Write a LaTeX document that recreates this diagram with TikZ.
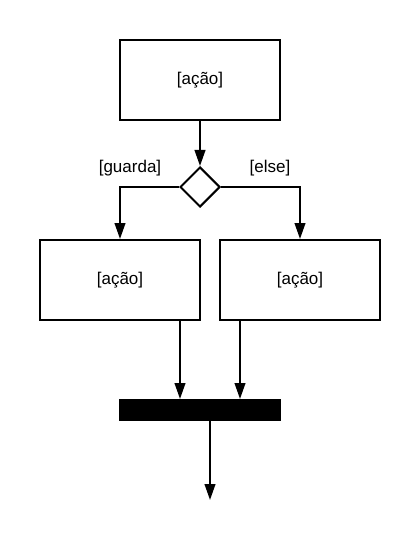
\documentclass[tikz,border=0pt]{standalone}
\usepackage{fontspec}
\setmainfont{Liberation Sans}
\usetikzlibrary{shapes.geometric,arrows.meta}

\begin{document}
\begin{tikzpicture}[x=0.75pt,y=-0.75pt,line width=1.5pt,font=\fontsize{12.75pt}{15pt}\selectfont,
	acao/.style ={rectangle, draw, minimum width=120pt, minimum height=60pt, inner sep=0pt},
	decisao/.style ={diamond, draw, minimum width=30pt, minimum height=30pt, inner sep=0pt},
	barra/.style ={rectangle, draw, fill=black, minimum width=120pt, minimum height=15pt, inner sep=0pt},
	seta/.style ={-{Triangle[length=12pt,width=8pt]}}]
		\useasboundingbox (0,0) rectangle (420,538);
		\node[acao] (a0) at (200,80) {[ação]};
		\node[decisao] (d) at (200,187) {};
		\node[acao] (a1) at (120,280) {[ação]};
		\node[acao] (a2) at (300,280) {[ação]};
		\node[barra] (b) at (200,410) {};
		\coordinate (fim) at (210,500);
		\node (g1) at (130,168) {[guarda]};
		\node (g2) at (270,168) {[else]};
		\draw[seta] (a0) -- (d);
		\draw[seta] (d.west) -| (a1.north);
		\draw[seta] (d.east) -| (a2.north);
		\draw[seta] ([xshift=45pt]a1.south) -- ([xshift=-15pt]b.north);
		\draw[seta] ([xshift=-45pt]a2.south) -- ([xshift=30pt]b.north);
		\draw[seta] ([xshift=7.5pt]b.south) -- (fim);
	\end{tikzpicture}
\end{document}
